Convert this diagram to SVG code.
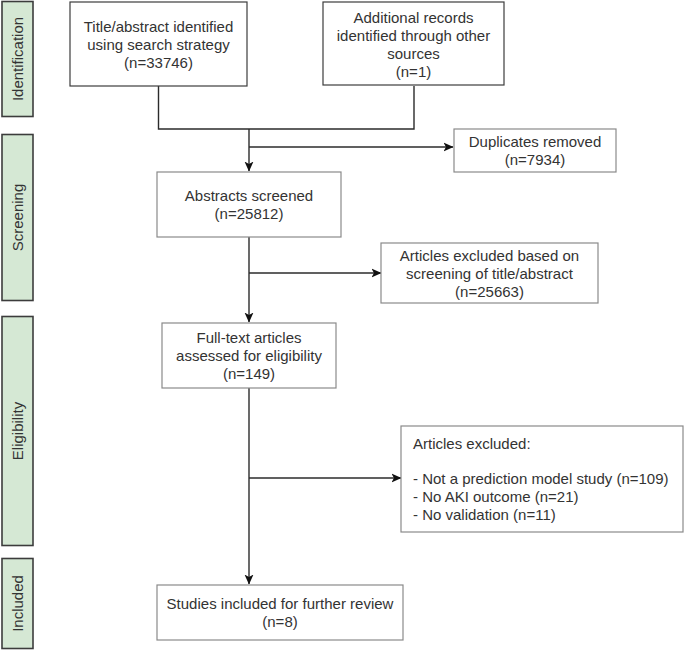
<svg xmlns="http://www.w3.org/2000/svg" width="685" height="650" viewBox="0 0 685 650">
<style>
  .bar { fill: #d5e8d4; stroke: #3c3c3c; stroke-width: 1.6; }
  .box { fill: #ffffff; stroke: #8a8a8a; stroke-width: 1.2; }
  .box-dark { fill: #ffffff; stroke: #3c3c3c; stroke-width: 1.2; }
  text { font-family: "Liberation Sans", Arial, sans-serif; font-size: 15px; fill: #333333; }
  .c { text-anchor: middle; }
  .conn { fill: none; stroke: #2b2b2b; stroke-width: 1.4; }
</style>
<defs>
  <marker id="arrow" viewBox="0 0 10 10" refX="9.5" refY="5" markerWidth="10" markerHeight="10" markerUnits="userSpaceOnUse" orient="auto">
    <path d="M0,0.5 L10,5 L0,9.5 L2.5,5 Z" fill="#111111"/>
  </marker>
</defs>
<rect width="685" height="650" fill="#ffffff"/>

<g id="phase-identification">
  <rect class="bar" x="2" y="1.5" width="31" height="115"/>
  <text class="c" transform="translate(23 59) rotate(-90)">Identification</text>
</g>
<g id="phase-screening">
  <rect class="bar" x="2" y="134.5" width="31" height="166"/>
  <text class="c" transform="translate(23 217.5) rotate(-90)">Screening</text>
</g>
<g id="phase-eligibility">
  <rect class="bar" x="2" y="316.5" width="31" height="229"/>
  <text class="c" transform="translate(23 431) rotate(-90)">Eligibility</text>
</g>
<g id="phase-included">
  <rect class="bar" x="2" y="558.5" width="31" height="90"/>
  <text class="c" transform="translate(23 603.5) rotate(-90)">Included</text>
</g>

<g id="connectors">
  <path class="conn" d="M158.5,86 V129 H414 V86"/>
  <path class="conn" d="M249,129 V171" marker-end="url(#arrow)"/>
  <path class="conn" d="M249,147 H453" marker-end="url(#arrow)"/>
  <path class="conn" d="M249,237 V322" marker-end="url(#arrow)"/>
  <path class="conn" d="M249,273 H381" marker-end="url(#arrow)"/>
  <path class="conn" d="M249,388 V584" marker-end="url(#arrow)"/>
  <path class="conn" d="M249,478 H401" marker-end="url(#arrow)"/>
</g>

<g id="node-search">
  <rect class="box-dark" x="70" y="2" width="177" height="84"/>
  <text class="c" x="158.5" y="31.5">Title/abstract identified</text>
  <text class="c" x="158.5" y="49.5">using search strategy</text>
  <text class="c" x="158.5" y="67.5">(n=33746)</text>
</g>
<g id="node-other">
  <rect class="box-dark" x="323" y="2" width="181" height="83"/>
  <text class="c" x="413.5" y="22.5">Additional records</text>
  <text class="c" x="413.5" y="40.5">identified through other</text>
  <text class="c" x="413.5" y="58.5">sources</text>
  <text class="c" x="413.5" y="76.5">(n=1)</text>
</g>
<g id="node-duplicates">
  <rect class="box" x="454" y="129" width="162" height="43"/>
  <text class="c" x="535" y="147">Duplicates removed</text>
  <text class="c" x="535" y="165">(n=7934)</text>
</g>
<g id="node-abstracts">
  <rect class="box" x="157" y="172" width="184" height="65"/>
  <text class="c" x="249" y="201">Abstracts screened</text>
  <text class="c" x="249" y="219">(n=25812)</text>
</g>
<g id="node-excluded-screening">
  <rect class="box" x="381" y="243" width="217" height="60"/>
  <text class="c" x="489.5" y="260.5">Articles excluded based on</text>
  <text class="c" x="489.5" y="278.5">screening of title/abstract</text>
  <text class="c" x="489.5" y="296.5">(n=25663)</text>
</g>
<g id="node-fulltext">
  <rect class="box" x="162" y="323" width="174" height="65"/>
  <text class="c" x="249" y="343">Full-text articles</text>
  <text class="c" x="249" y="361">assessed for eligibility</text>
  <text class="c" x="249" y="379">(n=149)</text>
</g>
<g id="node-excluded-eligibility">
  <rect class="box" x="401" y="426" width="282" height="106"/>
  <text x="413" y="449">Articles excluded:</text>
  <text x="413" y="484">- Not a prediction model study (n=109)</text>
  <text x="413" y="502">- No AKI outcome (n=21)</text>
  <text x="413" y="520">- No validation (n=11)</text>
</g>
<g id="node-included">
  <rect class="box" x="157" y="585" width="246" height="55"/>
  <text class="c" x="280" y="609">Studies included for further review</text>
  <text class="c" x="280" y="627">(n=8)</text>
</g>
</svg>
